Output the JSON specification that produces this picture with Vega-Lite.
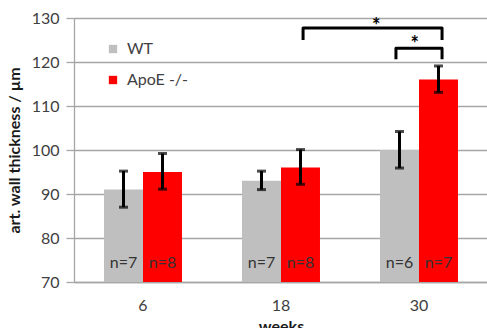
{
  "$schema": "https://vega.github.io/schema/vega-lite/v6.json",
  "width": 414,
  "height": 264,
  "autosize": {"type": "none"},
  "padding": {"left": 74, "top": 18, "right": 0, "bottom": 46},
  "config": {
    "font": "Lato",
    "view": {"stroke": null},
    "axis": {"labelFont": "Lato", "titleFont": "Lato"}
  },
  "layer": [
    {
      "data": {
        "values": [
          {"week": "6", "group": "WT", "mean": 91, "lo": 87, "hi": 95.2, "n": "n=7"},
          {"week": "6", "group": "ApoE -/-", "mean": 95, "lo": 91.1, "hi": 99.2, "n": "n=8"},
          {"week": "18", "group": "WT", "mean": 93, "lo": 91, "hi": 95.2, "n": "n=7"},
          {"week": "18", "group": "ApoE -/-", "mean": 96, "lo": 92.2, "hi": 100.1, "n": "n=8"},
          {"week": "30", "group": "WT", "mean": 100, "lo": 95.9, "hi": 104.2, "n": "n=6"},
          {"week": "30", "group": "ApoE -/-", "mean": 116, "lo": 113.1, "hi": 119.1, "n": "n=7"}
        ]
      },
      "encoding": {
        "x": {
          "field": "week", "type": "ordinal", "sort": ["6", "18", "30"],
          "scale": {"paddingInner": 0.435, "paddingOuter": 0.2175},
          "axis": {
            "title": "weeks", "titleFontSize": 16, "titleFontWeight": "bold", "titleColor": "#1a1a1a", "titlePadding": 5,
            "labelAngle": 0, "labelFontSize": 16, "labelColor": "#404040", "labelPadding": 15,
            "ticks": false, "domainColor": "#a6a6a6", "domainWidth": 1.3, "grid": false
          }
        },
        "xOffset": {"field": "group", "sort": ["WT", "ApoE -/-"], "scale": {"paddingInner": 0, "paddingOuter": 0}}
      },
      "layer": [
        {
          "mark": {"type": "bar"},
          "encoding": {
            "y": {
              "field": "mean", "type": "quantitative",
              "scale": {"domain": [70, 130], "nice": false, "zero": false},
              "title": "art. wall thickness / µm",
              "axis": {
                "values": [70, 80, 90, 100, 110, 120, 130],
                "grid": true, "gridColor": "#a6a6a6", "gridWidth": 1.3,
                "domainColor": "#a6a6a6", "domainWidth": 1.3,
                "tickColor": "#a6a6a6", "tickSize": 8, "tickWidth": 1.3,
                "labelFontSize": 16, "labelColor": "#404040", "labelPadding": 7,
                "titleFontSize": 16, "titleFontWeight": "bold", "titleColor": "#1a1a1a", "titlePadding": 9
              }
            },
            "y2": {"datum": 70},
            "color": {
              "field": "group", "type": "nominal",
              "scale": {"domain": ["WT", "ApoE -/-"], "range": ["#bfbfbf", "#ff0000"]},
              "legend": {
                "title": null, "orient": "none", "legendX": 31, "legendY": 23,
                "symbolType": "square", "symbolSize": 70, "symbolStrokeWidth": 0,
                "labelFontSize": 16, "labelColor": "#404040", "labelOffset": 6, "rowPadding": 15
              }
            }
          }
        },
        {
          "mark": {"type": "rule", "strokeWidth": 3, "color": "black"},
          "encoding": {
            "y": {"field": "lo", "type": "quantitative", "scale": {"domain": [70, 130], "nice": false, "zero": false}, "title": "art. wall thickness / µm"},
            "y2": {"field": "hi"}
          }
        },
        {
          "mark": {"type": "tick", "thickness": 3, "size": 9, "color": "black", "orient": "horizontal"},
          "encoding": {
            "y": {"field": "lo", "type": "quantitative", "scale": {"domain": [70, 130], "nice": false, "zero": false}, "title": "art. wall thickness / µm"}
          }
        },
        {
          "mark": {"type": "tick", "thickness": 3, "size": 9, "color": "black", "orient": "horizontal"},
          "encoding": {
            "y": {"field": "hi", "type": "quantitative", "scale": {"domain": [70, 130], "nice": false, "zero": false}, "title": "art. wall thickness / µm"}
          }
        },
        {
          "mark": {"type": "text", "fontSize": 16, "color": "#333333", "baseline": "middle"},
          "encoding": {
            "y": {"datum": 74.4},
            "text": {"field": "n"}
          }
        }
      ]
    },
    {
      "data": {
        "values": [
          {"id": "a", "k": 1, "px": 1.66, "py": 125},
          {"id": "a", "k": 2, "px": 1.66, "py": 127.7},
          {"id": "a", "k": 3, "px": 2.667, "py": 127.7},
          {"id": "a", "k": 4, "px": 2.667, "py": 125},
          {"id": "b", "k": 1, "px": 2.333, "py": 120.6},
          {"id": "b", "k": 2, "px": 2.333, "py": 123.1},
          {"id": "b", "k": 3, "px": 2.667, "py": 123.1},
          {"id": "b", "k": 4, "px": 2.667, "py": 120.6}
        ]
      },
      "mark": {"type": "line", "color": "black", "strokeWidth": 3, "strokeJoin": "round", "strokeCap": "butt"},
      "encoding": {
        "x": {"field": "px", "type": "quantitative", "scale": {"domain": [0, 3], "nice": false, "zero": false}, "axis": null},
        "y": {"field": "py", "type": "quantitative", "scale": {"domain": [70, 130], "nice": false, "zero": false}, "title": "art. wall thickness / µm"},
        "detail": {"field": "id"},
        "order": {"field": "k"}
      }
    },
    {
      "data": {
        "values": [
          {"px": 2.19, "py": 128.0, "label": "*"},
          {"px": 2.47, "py": 123.8, "label": "*"}
        ]
      },
      "mark": {"type": "text", "fontSize": 20, "fontWeight": "bold", "color": "black", "baseline": "middle"},
      "encoding": {
        "x": {"field": "px", "type": "quantitative", "scale": {"domain": [0, 3], "nice": false, "zero": false}, "axis": null},
        "y": {"field": "py", "type": "quantitative", "scale": {"domain": [70, 130], "nice": false, "zero": false}, "title": "art. wall thickness / µm"},
        "text": {"field": "label"}
      }
    }
  ],
  "resolve": {"scale": {"x": "independent"}}
}
